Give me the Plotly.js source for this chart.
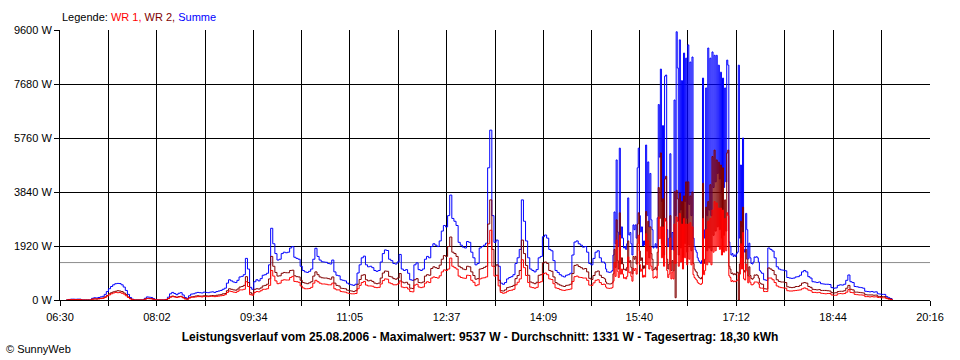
<!DOCTYPE html>
<html>
<head>
<meta charset="utf-8">
<script src="https://cdn.plot.ly/plotly-3.0.1.min.js"></script>
<style>
  html, body { margin: 0; padding: 0; background: #fff; }
  #chart { width: 960px; height: 360px; }
</style>
</head>
<body>
<div id="chart"></div>
<script>
// ---- data ----
const xTickLabels = ["06:30","08:02","09:34","11:05","12:37","14:09","15:40","17:12","18:44","20:16"];
const yTickValues = [0, 1920, 3840, 5760, 7680, 9600];
const averageW = 1331;
// sampling plan: 2-minute values, 1-minute values during the cloudy afternoon
const samplingPlan = [
  { start: "06:36", step: 2, count: 255 },
  { start: "15:06", step: 1, count: 150 },
  { start: "17:36", step: 2, count: 63 }
];

const summe = [
  0,20,30,30,25,30,30,0,0,0,0,0,60,80,70,
  90,110,130,200,300,400,480,540,580,590,585,540,460,340,200,
  90,30,0,0,0,0,0,60,110,100,90,50,10,0,0,
  0,0,20,100,220,270,230,190,240,260,180,90,60,150,210,
  220,250,270,260,250,280,270,260,280,290,270,300,320,340,380,
  420,600,720,680,640,620,700,820,840,900,1480,1100,450,380,650,
  720,680,760,880,900,950,1250,2550,2000,1650,1420,1450,1650,1700,1680,
  1700,1850,1900,1520,1480,1450,1200,1050,1000,980,1020,1100,1450,1840,1550,
  1420,1360,1350,1340,1300,1280,1420,1000,880,860,720,700,680,600,560,
  540,520,560,960,1250,1500,1560,1250,1180,1200,1150,1050,1020,1050,1350,
  1650,1780,1760,1450,1400,1300,1280,1350,1620,1100,1050,1080,950,720,700,
  1250,1320,1080,1050,1100,1450,1550,1500,1900,2000,1950,1900,2100,2450,2650,
  2600,3000,3730,2900,2800,2650,2050,1950,1880,1850,2080,2050,1700,1500,1250,
  1300,1850,1900,1950,2020,4700,6040,3000,2050,2130,1200,600,560,620,750,
  800,830,900,1300,1500,1800,3560,2800,2100,1500,1100,1050,1000,1080,1500,
  1550,2250,2310,2200,1800,1750,1400,1050,980,900,850,820,880,900,950,
  1600,2060,2100,2000,1950,1880,1900,1700,1300,1250,1480,1700,1750,1500,1350,
  // 15:06 - 17:35, one value per minute
  1350,1300,1100,1000,1000,980,990,1000,1050,1600,
  3130,2000,4980,2420,1900,5400,2200,2600,2200,1850,
  1900,1800,2000,3630,2310,2400,2000,1600,2670,2500,
  2670,2200,4700,5400,3000,2420,2600,1920,2100,1950,
  5510,3000,4910,2600,4500,2850,2500,1850,1900,2000,
  1850,2920,6950,5080,8210,3500,6200,2800,7960,8000,
  2500,1900,2200,5200,1800,2400,1780,7110,3000,9537,
  8250,2800,9250,3200,7800,2600,8780,3500,8600,2900,
  9070,3400,8460,3000,8640,2200,1900,1780,1700,1500,
  1400,1350,1300,1400,7890,2200,2500,7540,3000,8960,
  3200,8600,3000,8820,4000,8700,4200,8700,4500,8350,
  4300,8100,3800,7890,4000,7540,4200,8530,8350,2060,
  1900,1600,1650,1550,1600,1550,1650,1700,8350,2200,
  4800,2600,5760,1800,1700,3080,2500,1460,2020,1500,
  1300,1280,1350,1530,1520,1540,1500,1350,1050,1000,
  // 17:36 onwards, every 2 minutes
  950,720,700,1850,1800,1740,1500,1180,1100,1070,1060,1040,800,780,770,
  780,820,830,880,1000,1050,1000,830,780,650,640,620,640,580,570,
  560,560,550,440,420,430,520,540,530,560,700,890,650,620,480,
  470,450,440,420,310,300,290,300,280,290,220,210,200,200,120,
  80,50,0
];

const wr2 = [
  0,10,15,15,12,15,15,0,0,0,0,0,30,40,35,
  50,60,70,110,160,220,260,290,310,330,320,300,250,190,110,
  50,15,0,0,0,0,0,30,60,55,50,25,5,0,0,
  0,0,10,50,110,140,120,100,120,130,90,45,30,80,110,
  120,140,150,140,140,150,150,140,150,160,150,170,180,190,220,
  230,330,400,380,360,350,390,460,480,520,830,620,260,210,380,
  400,390,430,500,520,560,750,1550,1200,980,850,860,950,980,970,
  970,1050,1060,860,830,820,700,620,600,580,610,650,850,1000,900,
  820,790,780,780,760,740,820,600,520,500,420,410,400,350,330,
  320,300,330,560,730,880,900,720,680,700,660,600,580,600,780,
  960,1030,1020,840,820,760,740,780,940,640,610,630,560,420,410,
  720,760,620,610,640,850,900,880,1120,1180,1150,1120,1240,1450,1580,
  1550,1900,2240,1700,1650,1550,1200,1150,1100,1080,1200,1180,1000,870,740,
  760,1100,1120,1160,1200,2700,3560,1800,1200,1250,700,330,320,360,440,
  460,480,520,760,870,1050,2130,1650,1230,880,640,610,580,630,880,
  900,1320,1350,1300,1050,1020,820,620,570,530,500,480,520,530,560,
  940,1230,1250,1190,1150,1100,1120,1000,770,730,870,1000,1030,880,800,
  // 15:06 - 17:35
  780,750,640,580,580,570,570,580,610,930,
  1800,1160,2850,1400,1100,3100,1280,1500,1280,1080,
  1100,1050,1160,2100,1340,1400,1160,930,1550,1450,
  1550,1280,2700,3100,1740,1400,1500,1110,1220,1130,
  3150,1740,2800,1500,2600,1650,1450,1070,1100,1160,
  1070,1700,4000,2900,5230,2000,3600,1600,4300,4400,
  1450,1100,1280,3000,1050,1400,1030,3850,80,3900,
  3600,1600,3800,1850,3500,1500,3700,2000,4200,1700,
  4200,1950,3700,1750,3840,1300,1100,1030,990,870,
  810,780,750,810,4150,1300,1450,3300,1750,3500,
  1850,4100,1750,5100,2300,5330,2450,4980,2600,4900,
  2500,4800,2200,4700,2300,3560,2450,5230,5330,1200,
  1100,940,960,900,930,900,960,990,0,1280,
  2800,1500,3300,1050,990,1800,1450,850,1180,870,
  760,740,780,890,880,900,870,780,610,580,
  // 17:36 onwards
  560,400,390,1140,1100,1050,900,720,660,640,640,620,470,450,440,
  450,480,480,520,600,620,600,480,450,380,370,360,370,340,340,
  340,330,320,260,250,260,300,310,310,330,420,520,380,360,280,
  280,270,260,250,190,180,180,180,170,175,130,125,120,120,70,
  50,30,0
];

const wr1 = [
  0,10,15,15,13,15,15,0,0,0,0,0,30,40,35,
  40,50,60,90,140,180,220,250,270,260,265,240,210,150,90,
  40,15,0,0,0,0,0,30,50,45,40,25,5,0,0,
  0,0,10,50,100,120,110,90,110,120,80,40,30,70,100,
  100,110,120,120,110,130,120,120,130,130,120,130,140,150,160,
  190,270,320,300,280,270,310,360,360,380,650,480,190,170,270,
  300,290,330,380,380,400,520,1050,850,680,580,600,700,720,710,
  710,800,840,660,650,630,500,430,400,400,410,450,600,700,650,
  600,570,570,560,540,540,600,400,360,360,300,290,280,250,230,
  220,220,230,400,520,620,660,530,500,500,490,450,440,450,570,
  690,750,740,610,580,540,540,570,680,460,440,450,390,300,290,
  530,560,460,440,460,600,650,620,780,820,800,780,860,1000,1070,
  1050,1100,1490,1200,1150,1100,850,800,780,770,880,870,700,630,510,
  540,750,780,790,820,2000,2480,1200,850,880,500,270,240,260,310,
  340,350,380,540,630,750,1430,1150,870,620,460,440,420,450,620,
  650,930,960,900,750,730,580,430,410,370,350,340,360,370,390,
  660,830,850,810,800,780,780,700,530,520,610,700,720,620,550,
  // 15:06 - 17:35
  570,550,460,420,420,410,420,420,440,670,
  1330,840,2130,1020,800,2300,920,1100,920,770,
  800,750,840,1530,970,1000,840,670,1120,1050,
  1120,920,2000,2300,1260,1020,1100,810,880,820,
  2360,1260,2110,1100,1900,1200,1050,780,800,840,
  780,1220,2950,2180,2600,1500,2600,1200,2900,2800,
  1050,800,920,2200,750,1000,750,2700,1300,2950,
  2800,1200,3080,1350,2700,1100,2900,1500,2700,1250,
  2700,1450,2750,1250,2600,900,800,750,710,630,
  590,570,550,590,2900,900,1050,2500,1250,2800,
  1350,2900,1250,3200,1700,3500,1750,3450,1900,3270,
  1800,3270,1600,3200,1700,2900,1750,3100,3000,860,
  800,660,690,650,670,650,690,710,900,920,
  2000,1100,2400,750,710,1280,1050,610,840,630,
  540,540,570,640,640,640,630,570,440,420,
  // 17:36 onwards
  420,300,300,780,780,720,620,500,460,440,430,420,330,320,320,
  330,340,350,360,400,430,400,350,330,270,270,260,270,240,230,
  220,230,230,180,170,170,220,230,220,230,280,370,270,260,200,
  190,180,180,170,120,120,110,120,110,115,90,85,80,80,50,
  30,20,0
];

// ---- helpers ----
function toMin(s) { const p = s.split(":"); return parseInt(p[0], 10) * 60 + parseInt(p[1], 10); }
function fmt(m) { const h = Math.floor(m / 60), mm = Math.round(m % 60); return (h < 10 ? "0" : "") + h + ":" + (mm < 10 ? "0" : "") + mm; }

const times = [];
samplingPlan.forEach(seg => {
  const s = toMin(seg.start);
  for (let i = 0; i < seg.count; i++) times.push(s + i * seg.step);
});
if (times.length !== summe.length || wr1.length !== summe.length || wr2.length !== summe.length) {
  console.error("length mismatch", times.length, summe.length, wr1.length, wr2.length);
}
const labelMins = xTickLabels.map(toMin);

// grid every half label interval (labels only on every second line)
const gridVals = [], gridText = [];
for (let i = 0; i < labelMins.length; i++) {
  gridVals.push(labelMins[i]); gridText.push(xTickLabels[i]);
  if (i < labelMins.length - 1) { gridVals.push((labelMins[i] + labelMins[i + 1]) / 2); gridText.push(""); }
}

const font = "Liberation Sans, Arial, sans-serif";
const hover = times.map(fmt);

const traces = [
  { name: "Summe", x: times, y: summe, text: hover, type: "scatter", mode: "lines",
    line: { color: "#0000FF", width: 1, shape: "hv" } },
  { name: "WR 2", x: times, y: wr2, text: hover, type: "scatter", mode: "lines",
    line: { color: "#800000", width: 1, shape: "hv" } },
  { name: "WR 1", x: times, y: wr1, text: hover, type: "scatter", mode: "lines",
    line: { color: "#FF0000", width: 1, shape: "hv" } }
];

const layout = {
  width: 960, height: 360,
  margin: { l: 60, r: 30, t: 30, b: 60, pad: 0 },
  paper_bgcolor: "#FFFFFF", plot_bgcolor: "#FFFFFF",
  showlegend: false,
  font: { family: font, size: 11, color: "#000" },
  title: {
    text: "<b>Leistungsverlauf vom 25.08.2006 - Maximalwert: 9537 W - Durchschnitt: 1331 W - Tagesertrag: 18,30 kWh</b>",
    font: { family: font, size: 12, color: "#000" },
    x: 0.5, xanchor: "center", xref: "container",
    y: 1 - 337 / 360, yanchor: "middle", yref: "container"
  },
  xaxis: {
    range: [labelMins[0], labelMins[labelMins.length - 1]],
    tickmode: "array", tickvals: gridVals, ticktext: gridText,
    ticks: "outside", ticklen: 5, tickwidth: 1, tickcolor: "#000",
    ticklabelstandoff: 2,
    showgrid: true, gridcolor: "#000", gridwidth: 1,
    showline: true, linecolor: "#000", linewidth: 1,
    zeroline: false, fixedrange: true,
    tickfont: { family: font, size: 11, color: "#000" }
  },
  yaxis: {
    range: [yTickValues[0], yTickValues[yTickValues.length - 1]],
    tickmode: "array", tickvals: yTickValues, ticktext: yTickValues.map(v => v + " W"),
    ticks: "outside", ticklen: 5, tickwidth: 1, tickcolor: "#000",
    showgrid: true, gridcolor: "#000", gridwidth: 1,
    showline: true, linecolor: "#000", linewidth: 1,
    zeroline: false, fixedrange: true,
    tickfont: { family: font, size: 11, color: "#000" }
  },
  shapes: [{
    type: "line", xref: "paper", x0: 0, x1: 1, yref: "y", y0: averageW, y1: averageW,
    line: { color: "#8C8C8C", width: 1 }, layer: "between"
  }],
  annotations: [
    {
      text: 'Legende: <span style="color:#FF0000">WR 1,</span> <span style="color:#800000">WR 2,</span> <span style="color:#0000FF">Summe</span>',
      xref: "paper", yref: "paper", x: 0, y: (300 - 17) / 270,
      xanchor: "left", yanchor: "middle", showarrow: false,
      font: { family: font, size: 11, color: "#000" }
    },
    {
      text: "© SunnyWeb",
      xref: "paper", yref: "paper", x: (4 - 60) / 870, y: (300 - 349) / 270,
      xanchor: "left", yanchor: "middle", showarrow: false,
      font: { family: font, size: 11, color: "#000" }
    }
  ]
};

Plotly.newPlot("chart", traces, layout, { displayModeBar: false, staticPlot: true });
</script>
</body>
</html>
